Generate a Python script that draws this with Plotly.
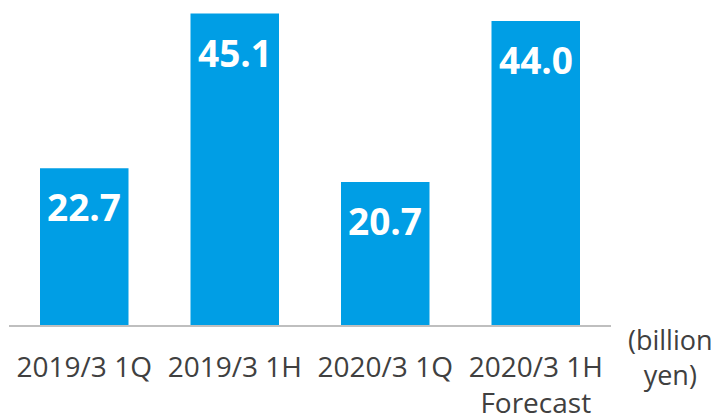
import plotly.graph_objects as go

categories = ["2019/3 1Q", "2019/3 1H", "2020/3 1Q", "2020/3 1H<br>Forecast"]
values = [22.7, 45.1, 20.7, 44.0]
value_labels = ["22.7", "45.1", "20.7", "44.0"]
unit_label = "(billion<br>yen)"

bar_color = "#009ee5"
text_color = "#404040"

fig = go.Figure()
fig.add_trace(go.Bar(x=categories, y=values, marker=dict(color=bar_color, line=dict(width=0)),
                     hoverinfo="skip"))

for c, v, t in zip(categories, values, value_labels):
    fig.add_annotation(x=c, y=v, xref="x", yref="y", text="<b>%s</b>" % t, showarrow=False,
                       yanchor="top", yshift=-11,
                       font=dict(family="Open Sans", size=37, color="white"))

fig.add_annotation(x=1.0, y=0, xref="paper", yref="paper", text=unit_label, showarrow=False,
                   xanchor="center", yanchor="middle", xshift=59, yshift=-31.5, align="center",
                   font=dict(family="Open Sans", size=27, color=text_color))

# page has an 8px body margin, figure drawn at (8, 8)
fig.update_layout(
    width=711, height=407,
    margin=dict(l=1, r=108, t=0, b=90, autoexpand=False),
    paper_bgcolor="white", plot_bgcolor="white",
    bargap=0.412,
    showlegend=False,
    font=dict(family="Open Sans", color=text_color),
)
fig.update_xaxes(showline=True, linecolor="#bfbfbf", linewidth=2, showgrid=False, zeroline=False,
                 automargin=False,
                 ticks="outside", ticklen=16, tickcolor="rgba(0,0,0,0)",
                 tickfont=dict(family="Open Sans", size=28, color=text_color))
fig.update_yaxes(range=[0, 45.9], visible=False, showgrid=False, zeroline=False, automargin=False)

fig.write_html("out.html")
